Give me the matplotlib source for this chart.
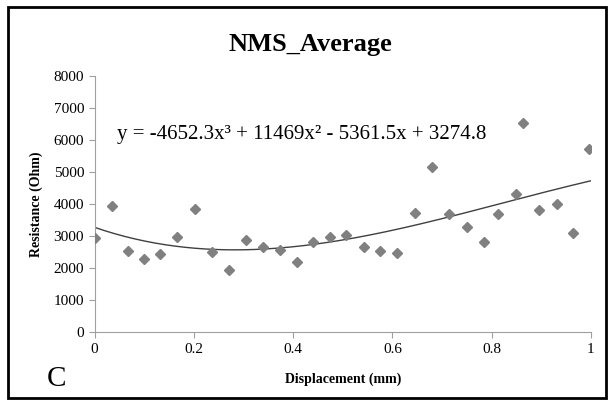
import numpy as np
import matplotlib
matplotlib.use("Agg")
import matplotlib.pyplot as plt
from matplotlib.patches import Rectangle

# data
disp = [0.001, 0.035, 0.067, 0.100, 0.132, 0.167, 0.202, 0.236, 0.271, 0.306,
        0.340, 0.373, 0.407, 0.440, 0.474, 0.507, 0.542, 0.576, 0.609, 0.645,
        0.680, 0.714, 0.750, 0.784, 0.812, 0.849, 0.864, 0.896, 0.931, 0.963, 0.996]
resist = [2930, 3950, 2530, 2270, 2430, 2980, 3840, 2510, 1940, 2875,
          2650, 2560, 2200, 2820, 2980, 3050, 2670, 2540, 2460, 3730,
          5170, 3690, 3290, 2820, 3690, 4330, 6540, 3810, 4000, 3100, 5720]
# trendline coefficients (from the equation shown)
coef = [-4652.3, 11469, -5361.5, 3274.8]
x_ticks = [0, 0.2, 0.4, 0.6, 0.8, 1]
x_tick_labels = ["0", "0.2", "0.4", "0.6", "0.8", "1"]
y_ticks = list(range(0, 8001, 1000))

plt.rcParams['font.family'] = ['Liberation Serif', 'DejaVu Serif']

fig = plt.figure(figsize=(6.14, 4.05), dpi=100)
ax = fig.add_axes([0.154, 0.180, 0.8085, 0.632])

xs = np.linspace(0, 1, 200)
ax.plot(xs, np.polyval(coef, xs), color='#404040', lw=1.0, zorder=2)
ax.plot(disp, resist, linestyle='none', marker='D', markersize=5.5,
        color='#808080', zorder=3)

ax.set_xlim(0, 1)
ax.set_ylim(0, 8000)
ax.set_xticks(x_ticks)
ax.set_xticklabels(x_tick_labels)
ax.set_yticks(y_ticks)
ax.tick_params(labelsize=11, color='#a0a0a0', length=4, width=0.8)
for s in ['top', 'right']:
    ax.spines[s].set_visible(False)
for s in ['left', 'bottom']:
    ax.spines[s].set_color('#a0a0a0')
    ax.spines[s].set_linewidth(0.8)

ax.set_xlabel('Displacement (mm)', fontsize=10, fontweight='bold', labelpad=12)
ax.set_ylabel('Resistance (Ohm)', fontsize=10, fontweight='bold', labelpad=8)

fig.text(0.505, 0.89, 'NMS_Average', fontsize=19, fontweight='bold', ha='center', va='center')
ax.text(0.046, 6050, 'y = -4652.3x\u00b3 + 11469x\u00b2 - 5361.5x + 3274.8', fontsize=15,
        ha='left', va='baseline')
fig.text(0.092, 0.065, 'C', fontsize=21, ha='center', va='center')

fig.patches.append(Rectangle((0.013, 0.017), 0.974, 0.966, transform=fig.transFigure,
                             fill=False, edgecolor='black', linewidth=2))

fig.savefig('out.png', dpi=100)
